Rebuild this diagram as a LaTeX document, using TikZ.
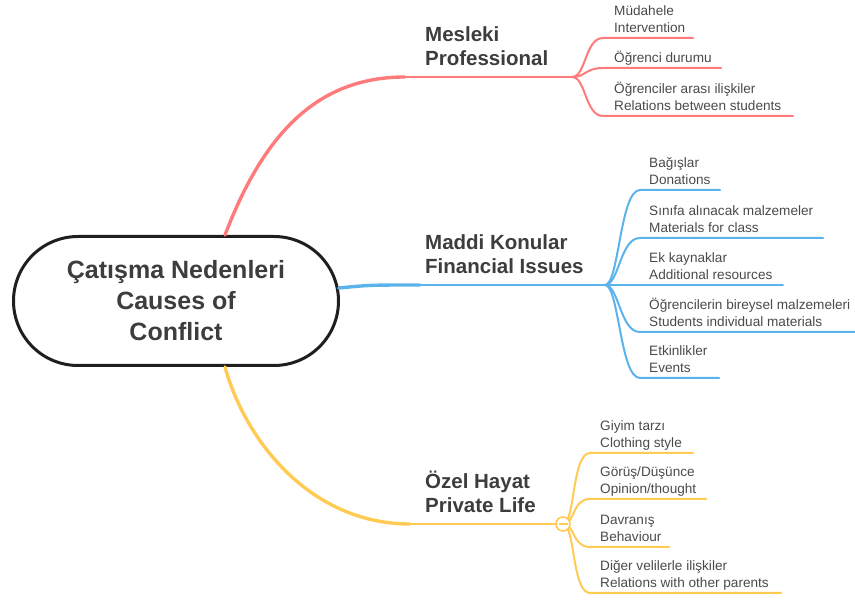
\documentclass[tikz,border=0pt]{standalone}
\usepackage{fontspec}
\setmainfont{Liberation Sans}
\usetikzlibrary{calc}
\definecolor{cred}{HTML}{FF7B7B}
\definecolor{cblue}{HTML}{5CB3EC}
\definecolor{cyel}{HTML}{FFCB55}
\definecolor{ctext}{HTML}{3D3D3D}
\definecolor{csub}{HTML}{4A4A4A}
\begin{document}
\begin{tikzpicture}[x=1pt,y=-1pt,
  sub/.style={anchor=south west, inner sep=0pt, align=left, text=csub, font=\fontsize{13.6}{17}\selectfont},
  topic/.style={anchor=south west, inner sep=0pt, align=left, text=ctext, font=\bfseries\fontsize{20.5}{24}\selectfont},
  trunk/.style={line width=3.4pt, line cap=round},
  limb/.style={line width=2.4pt, line cap=round},
  twig/.style={line width=2pt, line cap=round},
]
\useasboundingbox (0,0) rectangle (855,601);

% central node
\node[draw=black!88, line width=3pt, rounded corners=64.5pt, minimum width=325pt, minimum height=129pt,
      align=center, text=ctext, font=\bfseries\fontsize{25}{31}\selectfont] (pill) at (176,301)
      {Çatışma Nedenleri\\Causes of\\Conflict};

% hubs
\coordinate (hR) at (572,77);
\coordinate (hB) at (605,285);
\coordinate (hYc) at (563,524);
\coordinate (eR) at (405,77);
\coordinate (eB) at (420,285);
\coordinate (eY) at (410,524);

% main connectors
\draw[trunk, cred] ($(pill.north)+(49,0)$) .. controls (265,130) and (320,77) .. (eR);
\draw[limb, cred] (eR) -- (hR);
\draw[trunk, cblue] ($(pill.east)+(-1.3,-13)$) .. controls (370,285) .. (eB);
\draw[limb, cblue] (eB) -- (hB);
\draw[trunk, cyel] ($(pill.south)+(49,0)$) .. controls (245,440) and (310,524) .. (eY);
\draw[limb, cyel] (eY) -- (hYc);

% topic labels
\node[topic] (tR) at (425,72.7) {Mesleki\\Professional\strut};
\node[topic] (tB) at (425,280.7) {Maddi Konular\\Financial Issues\strut};
\node[topic] (tY) at (425,519.7) {Özel Hayat\\Private Life\strut};

% red children
\foreach \y/\xe/\n in {38/693/r1, 68/721/r2, 116/793/r3} {
  \coordinate (\n s) at (603,\y);
  \coordinate (\n e) at (\xe,\y);
  \draw[twig, cred] (hR) .. controls +(14,0) and +(-18,0) .. (\n s) -- (\n e);
}
\node[sub] (r1) at (614,38) {Müdahele\\Intervention\strut};
\node[sub] (r2) at (614,68) {Öğrenci durumu\strut};
\node[sub] (r3) at (614,116) {Öğrenciler arası ilişkiler\\Relations between students\strut};

% blue children
\foreach \y/\xe/\n in {190/720/b1, 238/823/b2, 285/783/b3, 332/856/b4, 378/719/b5} {
  \coordinate (\n s) at (640,\y);
  \coordinate (\n e) at (\xe,\y);
  \draw[twig, cblue] (hB) .. controls +(14,0) and +(-20,0) .. (\n s) -- (\n e);
}
\node[sub] (b1) at (649,190) {Bağışlar\\Donations\strut};
\node[sub] (b2) at (649,238) {Sınıfa alınacak malzemeler\\Materials for class\strut};
\node[sub] (b3) at (649,285) {Ek kaynaklar\\Additional resources\strut};
\node[sub] (b4) at (649,332) {Öğrencilerin bireysel malzemeleri\\Students individual materials\strut};
\node[sub] (b5) at (649,378) {Etkinlikler\\Events\strut};

% yellow children
\foreach \y/\xe/\n in {453/693/y1, 499/706/y2, 547/669/y3, 593/781/y4} {
  \coordinate (\n s) at (590,\y);
  \coordinate (\n e) at (\xe,\y);
  \draw[twig, cyel] (hYc) .. controls +(12,0) and +(-18,0) .. (\n s) -- (\n e);
}
\node[sub] (y1) at (600,453) {Giyim tarzı\\Clothing style\strut};
\node[sub] (y2) at (600,499) {Görüş/Düşünce\\Opinion/thought\strut};
\node[sub] (y3) at (600,547) {Davranış\\Behaviour\strut};
\node[sub] (y4) at (600,593) {Diğer velilerle ilişkiler\\Relations with other parents\strut};

% collapse hub
\node[circle, draw=cyel, fill=white, line width=1.6pt, minimum size=14pt, inner sep=0pt] (hY) at (hYc) {};
\draw[cyel, line width=1.6pt] ($(hY.center)+(-4.5,0)$) -- ($(hY.center)+(4.5,0)$);
\end{tikzpicture}
\end{document}
